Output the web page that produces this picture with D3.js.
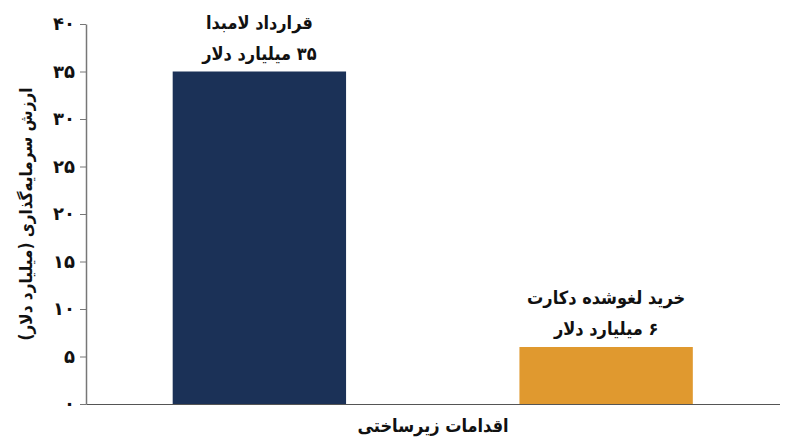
<!DOCTYPE html>
<html>
<head>
<meta charset="utf-8">
<script src="https://cdn.jsdelivr.net/npm/d3@7"></script>
<style>
  body { margin: 0; background: #fff; }
  svg { display: block; font-family: "DejaVu Sans Condensed", "DejaVu Sans", sans-serif; }
</style>
</head>
<body>
<div id="graph"></div>
<script>
var categories = ["قرارداد لامبدا", "خرید لغوشده دکارت"];
var values = [35, 6];
var valueLabels = ["۳۵ میلیارد دلار", "۶ میلیارد دلار"];
var colors = ["#1b3157", "#e0992f"];
var yTicks = [0, 5, 10, 15, 20, 25, 30, 35, 40];

var W = 800, H = 447;
var margin = { top: 24, right: 20, bottom: 43, left: 86 },
    width = W - margin.left - margin.right,
    height = H - margin.top - margin.bottom;

var faDigits = "۰۱۲۳۴۵۶۷۸۹";
function fa(n) { return String(n).replace(/\d/g, d => faDigits[d]); }

var svg = d3.select("#graph").append("svg")
    .attr("width", W)
    .attr("height", H)
    .append("g")
    .attr("transform", "translate(" + margin.left + "," + margin.top + ")");

var x = d3.scaleBand()
    .domain(categories)
    .range([0, width - 0.5])
    .paddingInner(0.5)
    .paddingOuter(0.25);

var y = d3.scaleLinear()
    .domain([0, 40])
    .range([height, 0]);

// bars
svg.selectAll(".bar")
    .data(values)
    .enter().append("rect")
    .attr("class", "bar")
    .attr("x", (d, i) => x(categories[i]))
    .attr("width", x.bandwidth())
    .attr("y", d => y(d))
    .attr("height", d => height - y(d))
    .attr("fill", (d, i) => colors[i]);

// labels above bars
var lab = svg.selectAll(".lab")
    .data(values)
    .enter().append("g")
    .attr("transform", (d, i) => "translate(" + (x(categories[i]) + x.bandwidth() / 2) + "," + y(d) + ")");

lab.append("text")
    .attr("y", -43)
    .attr("text-anchor", "middle")
    .attr("direction", "rtl")
    .style("font-size", "18px")
    .style("font-weight", "bold")
    .attr("fill", "#111")
    .text((d, i) => categories[i]);

lab.append("text")
    .attr("y", -12)
    .attr("text-anchor", "middle")
    .attr("direction", "rtl")
    .style("font-size", "18px")
    .style("font-weight", "bold")
    .attr("fill", "#111")
    .text((d, i) => valueLabels[i]);

// y axis
var yAxis = svg.append("g")
    .call(d3.axisLeft(y).tickValues(yTicks).tickFormat(fa).tickSize(6).tickSizeOuter(0));
yAxis.select(".domain").attr("stroke", "#777").attr("stroke-width", 1.5);
yAxis.selectAll(".tick line").attr("stroke", "#777");
yAxis.selectAll(".tick text")
    .attr("x", -11)
    .style("font-size", "18px")
    .style("font-weight", "bold")
    .style("font-family", "DejaVu Sans")
    .attr("fill", "#111");

// x axis line
svg.append("g")
    .attr("transform", "translate(0," + height + ")")
    .call(d3.axisBottom(x).tickSize(0).tickFormat(""))
    .select(".domain").attr("stroke", "#555").attr("stroke-width", 1.2);

// axis titles
svg.append("text")
    .attr("x", width / 2)
    .attr("y", height + 28)
    .attr("text-anchor", "middle")
    .attr("direction", "rtl")
    .style("font-size", "18px")
    .style("font-weight", "bold")
    .attr("fill", "#111")
    .text("اقدامات زیرساختی");

svg.append("text")
    .attr("transform", "translate(" + (-54) + "," + (height / 2) + ") rotate(-90)")
    .attr("text-anchor", "middle")
    .attr("direction", "rtl")
    .style("font-size", "17px")
    .style("font-weight", "bold")
    .attr("fill", "#111")
    .text("ارزش سرمایه‌گذاری (میلیارد دلار)");
</script>
</body>
</html>
